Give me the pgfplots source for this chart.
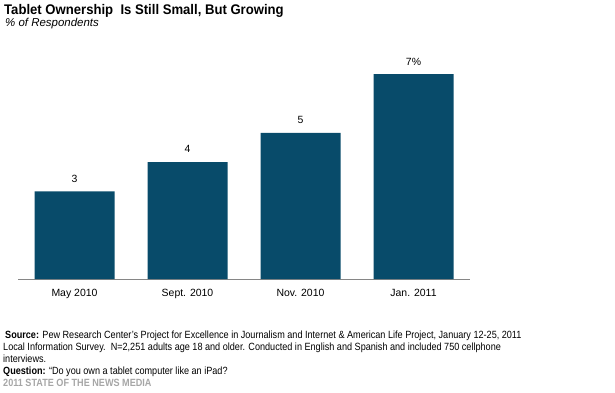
\documentclass[border=0pt]{standalone}
\usepackage{fontspec}
\setmainfont{Liberation Sans}
\newfontfamily\titlefont{Liberation Sans}[FakeStretch=0.94]
\newfontfamily\notefont{Liberation Sans}[FakeStretch=0.87]
\usepackage{pgfplots}
\pgfplotsset{compat=1.18}
\definecolor{barblue}{RGB}{8,75,106}
\definecolor{axgray}{RGB}{134,134,134}
\definecolor{footgray}{RGB}{166,166,166}
\begin{document}
\begin{tikzpicture}[x=1bp,y=1bp]
\path[use as bounding box] (0,0) rectangle (615,392);
\begin{axis}[
  at={(18bp,113bp)}, anchor=south west,
  width=452bp, height=234bp, scale only axis,
  xmin=-0.5, xmax=3.5, ymin=0, ymax=8,
  axis x line*=bottom, axis y line=none,
  x axis line style={axgray, line width=1bp, -},
  xtick={0,1,2,3},
  xticklabels={May 2010, Sept. 2010, Nov. 2010, Jan. 2011},
  major tick length=0pt,
  xticklabel style={font=\fontsize{10.5}{12}\selectfont, yshift=-7bp},
  ybar, bar width=80bp,
  nodes near coords, point meta=explicit symbolic,
  nodes near coords style={font=\fontsize{10.5}{12}\selectfont, anchor=south, yshift=5.5bp},
]
\addplot[fill=barblue, draw=none] table[x=x, y=y, meta=lab] {
x y lab
0 3 3
1 4 4
2 5 5
3 7 7\%
};
\end{axis}
\node[anchor=base west, inner sep=0] at (4,378) {\titlefont\fontsize{14}{16}\selectfont\bfseries Tablet Ownership\ \ Is Still Small, But Growing};
\node[anchor=base west, inner sep=0] at (5,366) {\fontsize{11.5}{13}\selectfont\itshape \% of Respondents};
\node[anchor=base west, inner sep=0] at (5,54) {\notefont\fontsize{10.5}{12}\selectfont\textbf{Source:} Pew Research Center’s Project for Excellence in Journalism and Internet \& American Life Project, January 12-25, 2011};
\node[anchor=base west, inner sep=0] at (3,42) {\notefont\fontsize{10.5}{12}\selectfont Local Information Survey.\ \ N=2,251 adults age 18 and older. Conducted in English and Spanish and included 750 cellphone};
\node[anchor=base west, inner sep=0] at (3,30) {\notefont\fontsize{10.5}{12}\selectfont interviews.};
\node[anchor=base west, inner sep=0] at (3,18) {\notefont\fontsize{10.5}{12}\selectfont\textbf{Question:} “Do you own a tablet computer like an iPad?};
\node[anchor=base west, inner sep=0] at (3,6) {\notefont\fontsize{10.5}{12}\selectfont\bfseries\color{footgray}2011 STATE OF THE NEWS MEDIA};
\end{tikzpicture}
\end{document}
